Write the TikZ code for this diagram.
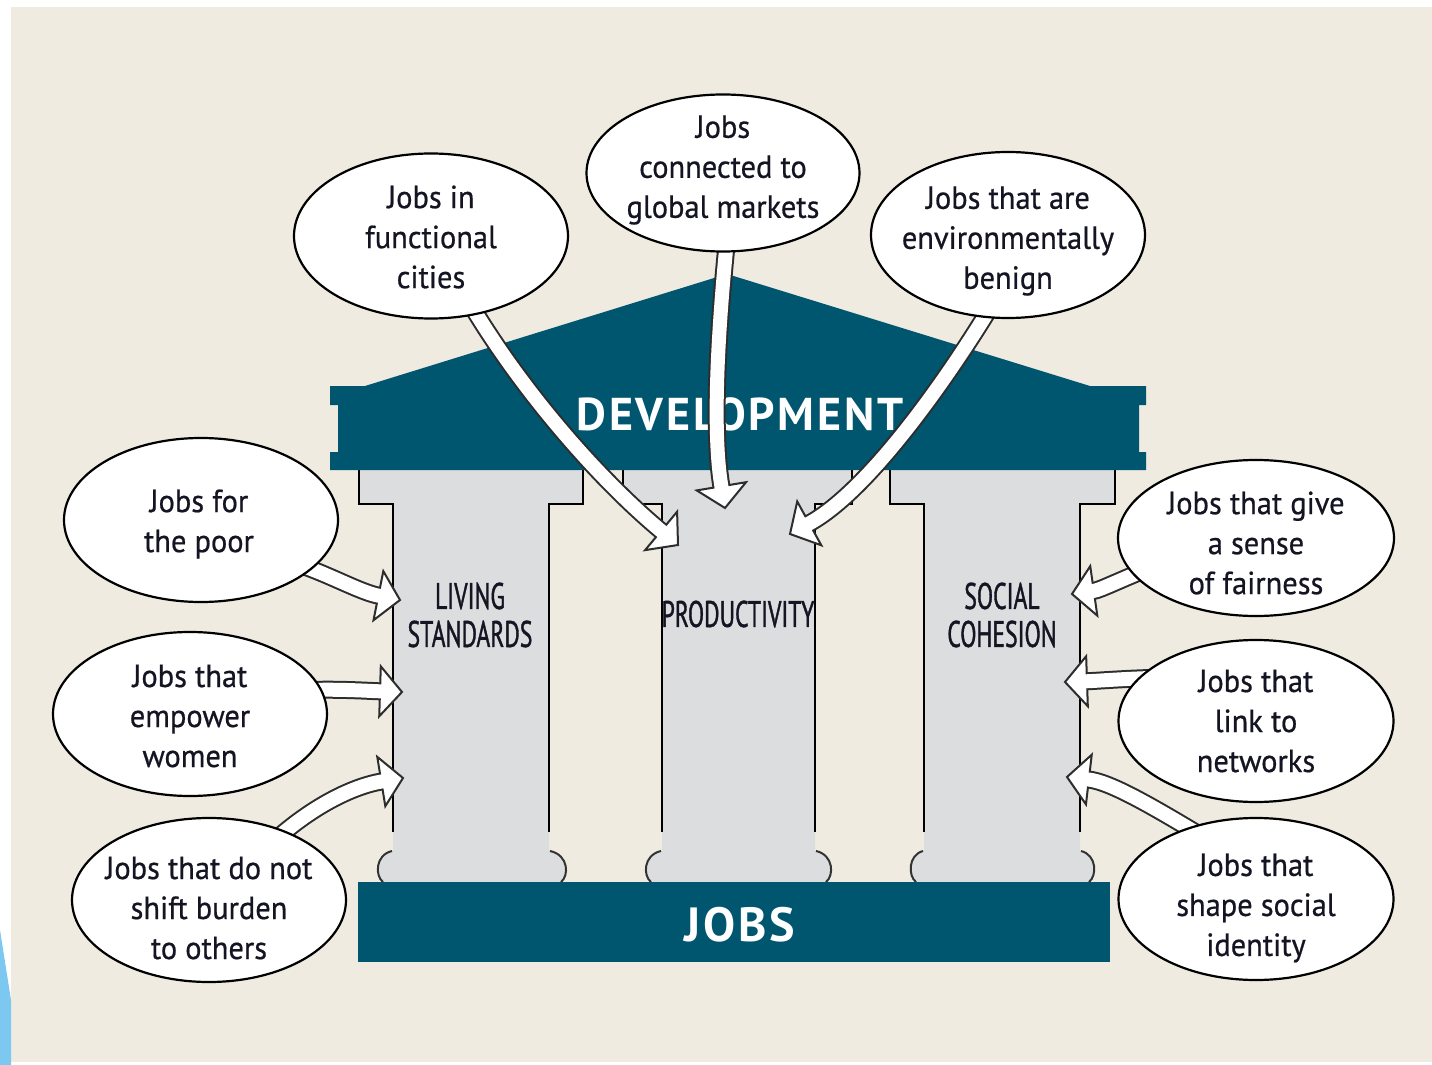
\documentclass[tikz,border=0pt]{standalone}
\usepackage{fontspec}
\setmainfont{PT Sans}
\newfontfamily\narrowf[FakeStretch=0.64,FakeBold=1]{PT Sans}
\newfontfamily\headf[LetterSpace=6]{PT Sans}
\newfontfamily\bubf[FakeBold=0.6,FakeStretch=0.95]{PT Sans}
\usetikzlibrary{shapes.geometric,calc}
\definecolor{bg}{RGB}{239,235,224}
\definecolor{devteal}{RGB}{0,86,111}
\definecolor{pillarc}{RGB}{220,221,223}
\definecolor{arrowline}{RGB}{45,45,45}
\definecolor{sky}{RGB}{125,200,240}
\definecolor{txt}{RGB}{20,20,35}
\tikzset{
  bubble/.style={ellipse, draw=black, line width=1.1pt, fill=white, inner sep=0pt},
  bubbletext/.style={align=center, text=txt, inner sep=0pt, font=\bubf\fontsize{16}{20}\selectfont},
  pillarline/.style={draw=black, line width=1.25pt},
  baseline/.style={draw=black!80, line width=1pt},
  plabel/.style={align=center, text=txt, font=\narrowf\fontsize{18.5}{19}\selectfont},
  biglabel/.style={text=white, font=\headf\bfseries\fontsize{23}{26}\selectfont}
}
% block arrow: start, control 1, control 2, tip
\newcommand\blockarrow[4]{%
  \coordinate (hb) at ($(#4)!11pt!(#3)$);
  \coordinate (h1) at ($(hb)!12.5pt!90:(#4)$);
  \coordinate (h2) at ($(hb)!12.5pt!-90:(#4)$);
  \coordinate (hc) at ($(hb)!3pt!(#4)$);
  \draw[line width=9pt, arrowline] (#1) .. controls (#2) and (#3) .. (hb);
  \filldraw[fill=white, draw=arrowline, line width=1pt, line join=miter] (h1) -- (#4) -- (h2) -- cycle;
  \draw[line width=7pt, white] (#1) .. controls (#2) and (#3) .. (hb) -- (hc);
}
% pillar: capital left, capital right, shaft left, shaft right, bulge left, bulge right
\newcommand\pillar[6]{%
  \fill[pillarc] (#1,470) -- (#1,504) -- (#3,504) -- (#3,851)
     .. controls (#5-2,855) and (#5-2,876) .. (#5+6,882) -- (#6-6,882)
     .. controls (#6+2,876) and (#6+2,855) .. (#4,851) -- (#4,504) -- (#2,504) -- (#2,470) -- cycle;
  \draw[pillarline] (#1,470) -- (#1,504) -- (#3,504) -- (#3,832);
  \draw[pillarline] (#2,470) -- (#2,504) -- (#4,504) -- (#4,832);
  \draw[baseline] (#3-1,851) .. controls (#5-2,855) and (#5-2,876) .. (#5+6,882);
  \draw[baseline] (#4+1,851) .. controls (#6+2,855) and (#6+2,876) .. (#6-6,882);
}
\begin{document}
\begin{tikzpicture}[x=0.5pt,y=-0.5pt]
\useasboundingbox (0,0) rectangle (1432,1065);
\fill[white] (0,0) rectangle (1432,1065);
\fill[bg] (11,7) rectangle (1432,1062);
\fill[sky] (0,930) -- (11,1000) -- (11,1065) -- (0,1065) -- cycle;

% pillars
\pillar{359}{583}{393}{549}{377}{567}
\pillar{623}{852}{662}{815}{645}{832}
\pillar{890}{1115}{924}{1080}{910}{1095}

% roof and entablature
\fill[devteal] (330,386) -- (365,386) -- (727,274) -- (1090,386) -- (1146,386)
  -- (1146,405) -- (1139,405) -- (1139,452) -- (1146,452) -- (1146,470)
  -- (330,470) -- (330,452) -- (338,452) -- (338,405) -- (330,405) -- cycle;
\node[biglabel] (dev) at (740,414) {DEVELOPMENT};

% jobs base
\fill[devteal] (358,882) rectangle (1110,962);
\node[biglabel, font=\headf\bfseries\fontsize{24}{26}\selectfont] (jobs) at (740,925) {JOBS};

% pillar labels
\node[plabel] (ls) at (470,615) {LIVING\\STANDARDS};
\node[plabel] (pr) at (738,614) {PRODUCTIVITY};
\node[plabel] (sc) at (1002,615) {SOCIAL\\COHESION};

% arrow coordinates
\coordinate (a0) at (465,295); \coordinate (a1) at (520,390); \coordinate (a2) at (600,480); \coordinate (aT) at (678,545);
\coordinate (b0) at (727,240); \coordinate (b1) at (718,330); \coordinate (b2) at (712,430); \coordinate (bT) at (725,508);
\coordinate (c0) at (995,300); \coordinate (c1) at (950,375); \coordinate (c2) at (870,490); \coordinate (cT) at (790,534);
\coordinate (d0) at (300,565); \coordinate (d1) at (330,575); \coordinate (d2) at (360,592); \coordinate (dT) at (400,600);
\coordinate (f0) at (310,690); \coordinate (f1) at (340,689); \coordinate (f2) at (370,691); \coordinate (fT) at (402,692);
\coordinate (g0) at (275,840); \coordinate (g1) at (320,800); \coordinate (g2) at (360,785); \coordinate (gT) at (403,778);
\coordinate (h0) at (1150,568); \coordinate (hA) at (1120,580); \coordinate (hB) at (1100,590); \coordinate (hT) at (1072,594);
\coordinate (i0) at (1150,678); \coordinate (i1) at (1120,679); \coordinate (i2) at (1095,681); \coordinate (iT) at (1065,682);
\coordinate (j0) at (1200,835); \coordinate (j1) at (1150,805); \coordinate (j2) at (1110,782); \coordinate (jT) at (1067,777);

\blockarrow{a0}{a1}{a2}{aT}
\blockarrow{b0}{b1}{b2}{bT}
\blockarrow{c0}{c1}{c2}{cT}
\blockarrow{d0}{d1}{d2}{dT}
\blockarrow{f0}{f1}{f2}{fT}
\blockarrow{g0}{g1}{g2}{gT}
\blockarrow{h0}{hA}{hB}{hT}
\blockarrow{i0}{i1}{i2}{iT}
\blockarrow{j0}{j1}{j2}{jT}

% bubbles
\node[bubble, minimum width=137pt, minimum height=82.5pt] (e1) at (431,236) {};
\node[bubbletext] (t1) at (431,237) {Jobs in\\functional\\cities};
\node[bubble, minimum width=136.5pt, minimum height=78.5pt] (e2) at (723,173) {};
\node[bubbletext] (t2) at (723,170) {Jobs\\connected to\\global markets};
\node[bubble, minimum width=137pt, minimum height=83pt] (e3) at (1008,235) {};
\node[bubbletext] (t3) at (1008,241) {Jobs that are\\environmentally\\benign};
\node[bubble, minimum width=137pt, minimum height=82pt] (e4) at (201,520) {};
\node[bubbletext] (t4) at (199,524) {Jobs for\\the poor};
\node[bubble, minimum width=137pt, minimum height=82pt] (e5) at (190,714) {};
\node[bubbletext] (t5) at (190,716) {Jobs that\\empower\\women};
\node[bubble, minimum width=137pt, minimum height=82pt] (e6) at (209,900) {};
\node[bubbletext] (t6) at (209,908) {Jobs that do not\\shift burden\\to others};
\node[bubble, minimum width=138pt, minimum height=78pt] (e7) at (1256,538) {};
\node[bubbletext] (t7) at (1256,543) {Jobs that give\\a sense\\of fairness};
\node[bubble, minimum width=137.5pt, minimum height=81pt] (e8) at (1256,721) {};
\node[bubbletext] (t8) at (1256,721) {Jobs that\\link to\\networks};
\node[bubble, minimum width=137.5pt, minimum height=81pt] (e9) at (1256,899) {};
\node[bubbletext] (t9) at (1256,908) {Jobs that\\shape social\\identity};
\end{tikzpicture}
\end{document}
